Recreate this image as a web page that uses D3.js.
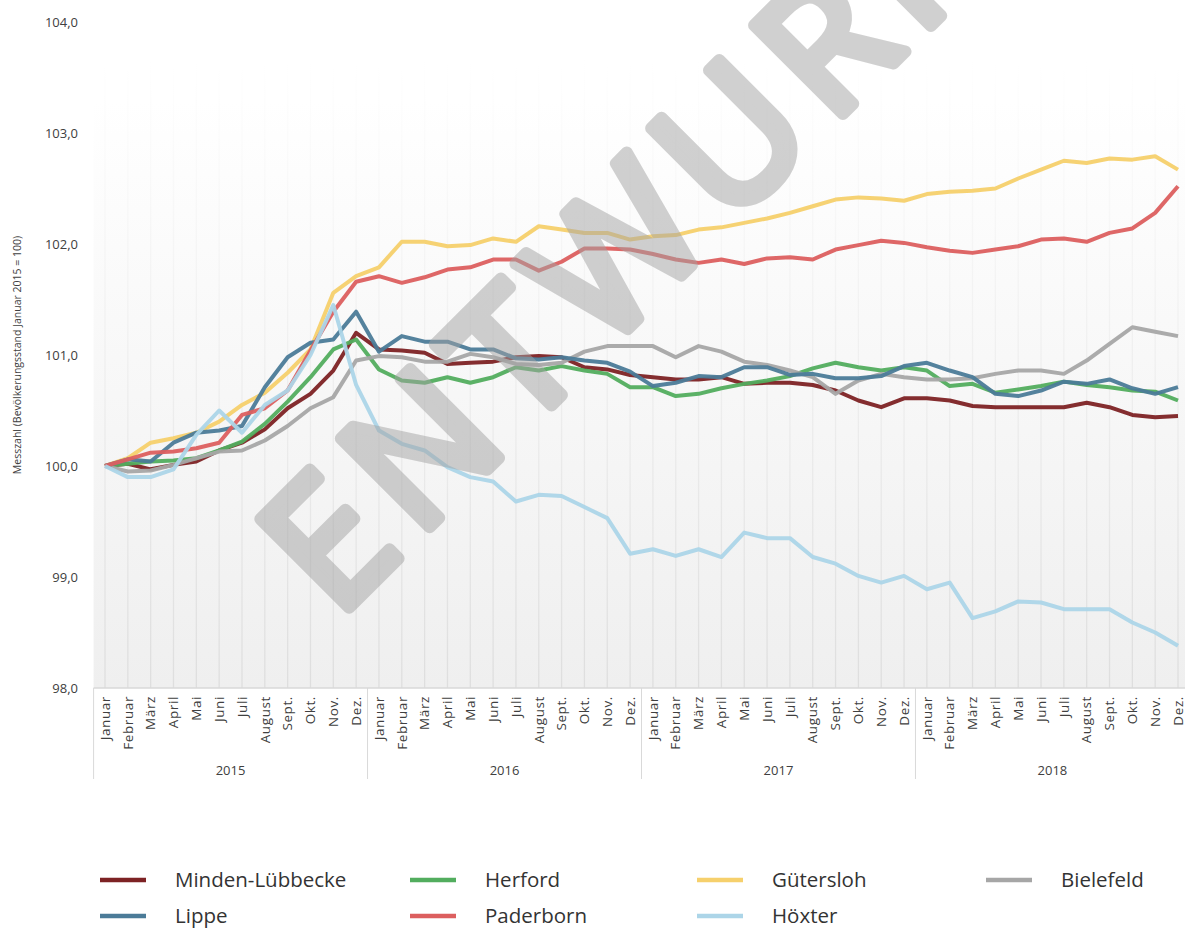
<!DOCTYPE html>
<html><head><meta charset="utf-8">
<script src="https://cdn.jsdelivr.net/npm/d3@7"></script>
<style>
html,body{margin:0;padding:0;background:#fff;}
svg{display:block;font-family:"Open Sans",sans-serif;}
</style></head>
<body><svg id="c" width="1185" height="928"></svg>
<script>
const months = ["Januar","Februar","März","April","Mai","Juni","Juli","August","Sept.","Okt.","Nov.","Dez."];
const years = ["2015","2016","2017","2018"];
const yTicks = [98,99,100,101,102,103,104];
const yTitle = "Messzahl (Bevölkerungsstand Januar 2015 = 100)";

const mindenLuebbecke = [100.0,100.02,99.97,100.01,100.04,100.14,100.21,100.33,100.52,100.65,100.86,101.20,
 101.05,101.04,101.02,100.92,100.93,100.94,100.98,100.99,100.98,100.89,100.87,100.82,
 100.80,100.78,100.78,100.80,100.74,100.75,100.75,100.73,100.68,100.59,100.53,100.61,
 100.61,100.59,100.54,100.53,100.53,100.53,100.53,100.57,100.53,100.46,100.44,100.45];
const herford = [100.0,100.02,100.04,100.05,100.07,100.14,100.22,100.38,100.58,100.80,101.05,101.14,
 100.87,100.77,100.75,100.80,100.75,100.80,100.89,100.86,100.90,100.86,100.83,100.71,
 100.71,100.63,100.65,100.70,100.74,100.77,100.81,100.88,100.93,100.89,100.86,100.89,
 100.86,100.72,100.74,100.66,100.69,100.72,100.76,100.73,100.71,100.68,100.67,100.59];
const guetersloh = [100.0,100.07,100.21,100.25,100.30,100.40,100.55,100.66,100.84,101.05,101.56,101.71,
 101.79,102.02,102.02,101.98,101.99,102.05,102.02,102.16,102.13,102.10,102.10,102.04,
 102.07,102.08,102.13,102.15,102.19,102.23,102.28,102.34,102.40,102.42,102.41,102.39,
 102.45,102.47,102.48,102.50,102.59,102.67,102.75,102.73,102.77,102.76,102.79,102.67];
const bielefeld = [100.0,99.95,99.96,100.01,100.07,100.13,100.14,100.23,100.36,100.52,100.62,100.95,
 100.99,100.98,100.94,100.94,101.01,100.98,100.92,100.91,100.93,101.03,101.08,101.08,
 101.08,100.98,101.08,101.03,100.94,100.91,100.86,100.80,100.65,100.77,100.83,100.80,
 100.78,100.78,100.79,100.83,100.86,100.86,100.83,100.95,101.10,101.25,101.21,101.17];
const lippe = [100.0,100.06,100.04,100.21,100.30,100.32,100.36,100.71,100.98,101.11,101.14,101.39,
 101.03,101.17,101.12,101.12,101.05,101.05,100.97,100.96,100.98,100.95,100.93,100.85,
 100.72,100.75,100.81,100.80,100.89,100.89,100.82,100.83,100.79,100.79,100.81,100.90,
 100.93,100.86,100.80,100.65,100.63,100.68,100.76,100.74,100.78,100.70,100.65,100.71];
const paderborn = [100.0,100.06,100.12,100.13,100.16,100.21,100.46,100.52,100.68,101.04,101.39,101.66,
 101.71,101.65,101.70,101.77,101.79,101.86,101.86,101.76,101.84,101.96,101.96,101.95,
 101.91,101.86,101.83,101.86,101.82,101.87,101.88,101.86,101.95,101.99,102.03,102.01,
 101.97,101.94,101.92,101.95,101.98,102.04,102.05,102.02,102.10,102.14,102.28,102.52];
const hoexter = [100.0,99.90,99.90,99.97,100.28,100.50,100.30,100.55,100.68,101.00,101.45,100.73,
 100.32,100.20,100.14,99.99,99.90,99.86,99.68,99.74,99.73,99.63,99.53,99.21,
 99.25,99.19,99.25,99.18,99.40,99.35,99.35,99.18,99.12,99.01,98.95,99.01,
 98.89,98.95,98.63,98.69,98.78,98.77,98.71,98.71,98.71,98.59,98.50,98.38];

const seriesNames = ["Minden-Lübbecke","Herford","Gütersloh","Bielefeld","Lippe","Paderborn","Höxter"];
const seriesValues = [mindenLuebbecke, herford, guetersloh, bielefeld, lippe, paderborn, hoexter];
const seriesColors = ["#7d2224","#52ad5e","#f6d06c","#a6a6a6","#4b7b98","#dc5f5f","#acd5e8"];
const watermark = "ENTWURF";

const svg = d3.select("#c");
const n = years.length * months.length;
const x = d3.scaleLinear().domain([0, n-1]).range([105, 1178]);
const step = x(1) - x(0);
const y = d3.scaleLinear().domain([98, 104]).range([688, 22]);
const left = x(0) - step/2, right = 1185;

const defs = svg.append("defs");
const bg = defs.append("linearGradient").attr("id","bg").attr("gradientUnits","userSpaceOnUse")
  .attr("x1",0).attr("y1",100).attr("x2",0).attr("y2",688);
bg.append("stop").attr("offset",0).attr("stop-color","#ffffff");
bg.append("stop").attr("offset",1).attr("stop-color","#efefef");
const gg = defs.append("linearGradient").attr("id","gl").attr("gradientUnits","userSpaceOnUse")
  .attr("x1",0).attr("y1",60).attr("x2",0).attr("y2",688);
gg.append("stop").attr("offset",0).attr("stop-color","#ffffff");
gg.append("stop").attr("offset",1).attr("stop-color","#dedede");

svg.append("rect").attr("x",left).attr("y",y(104)).attr("width",right-left).attr("height",y(98)-y(104)).attr("fill","url(#bg)");

// vertical grid lines at each month
svg.append("g").selectAll("line").data(d3.range(n)).join("line")
  .attr("x1",d=>x(d)).attr("x2",d=>x(d)+0.01).attr("y1",y(104)).attr("y2",y(98))
  .attr("stroke","url(#gl)").attr("stroke-width",1.3);

// y axis labels
const yAxis = d3.axisLeft(y).tickValues(yTicks).tickSize(0).tickPadding(0)
  .tickFormat(d => d3.format(".1f")(d).replace(".", ","));
const ya = svg.append("g").attr("transform",`translate(78,0)`).call(yAxis);
ya.select(".domain").remove();
ya.selectAll("text").attr("font-size",13).attr("fill","#404040").attr("font-family","Open Sans");

svg.append("text").attr("transform",`translate(21,${y(101)}) rotate(-90)`)
  .attr("text-anchor","middle").attr("font-size",10.5).attr("fill","#404040").text(yTitle);

// x axis frame
svg.append("line").attr("x1",left).attr("x2",right).attr("y1",y(98)).attr("y2",y(98))
  .attr("stroke","#d9d9d9").attr("stroke-width",1.5);
svg.append("g").selectAll("line").data(d3.range(years.length)).join("line")
  .attr("x1",d=>x(d*12)-step/2).attr("x2",d=>x(d*12)-step/2)
  .attr("y1",y(98)).attr("y2",779).attr("stroke","#d9d9d9").attr("stroke-width",1);

const labelData = d3.range(n).map(i => ({i, t: months[i % 12]}));
svg.append("g").selectAll("text").data(labelData).join("text")
  .attr("transform", d => `translate(${x(d.i)},696) rotate(-90)`)
  .attr("text-anchor","end").attr("dy","0.35em").attr("font-size",13.5)
  .attr("letter-spacing","0.6px").attr("fill","#404040").text(d=>d.t);
svg.append("g").selectAll("text").data(years).join("text")
  .attr("x",(d,k)=> (x(k*12) + x(k*12+11))/2).attr("y",775)
  .attr("text-anchor","middle").attr("font-size",13).attr("fill","#404040").text(d=>d);

// lines
const line = d3.line().x((d,i)=>x(i)).y(d=>y(d));
svg.append("g").selectAll("path").data(seriesValues).join("path")
  .attr("d", line).attr("fill","none")
  .attr("stroke",(d,i)=>seriesColors[i]).attr("stroke-width",4)
  .attr("stroke-linejoin","round").attr("opacity",0.95);

// watermark
svg.append("text").attr("transform","translate(347,610) rotate(-45)")
  .attr("x",-14).attr("font-size",176).attr("font-family","Open Sans").attr("font-weight",400)
  .attr("letter-spacing","16px")
  .attr("fill","#a3a3a3").attr("stroke","#a3a3a3").attr("stroke-width",12)
  .attr("stroke-linejoin","round").attr("opacity",0.5).text(watermark);

// legend
const legX = [100, 410, 697, 986];
const legendItems = seriesNames.map((name,i)=>({name, color: seriesColors[i], col: i%4, row: Math.floor(i/4)}));
const lg = svg.append("g").selectAll("g").data(legendItems).join("g")
  .attr("transform", d => `translate(${legX[d.col]},${880 + d.row*36})`);
lg.append("line").attr("x1",0).attr("x2",46).attr("y1",0).attr("y2",0)
  .attr("stroke",d=>d.color).attr("stroke-width",4.5);
lg.append("text").attr("x",75).attr("dy","0.35em").attr("font-size",20.5).attr("fill","#333")
  .text(d=>d.name);
</script></body></html>
